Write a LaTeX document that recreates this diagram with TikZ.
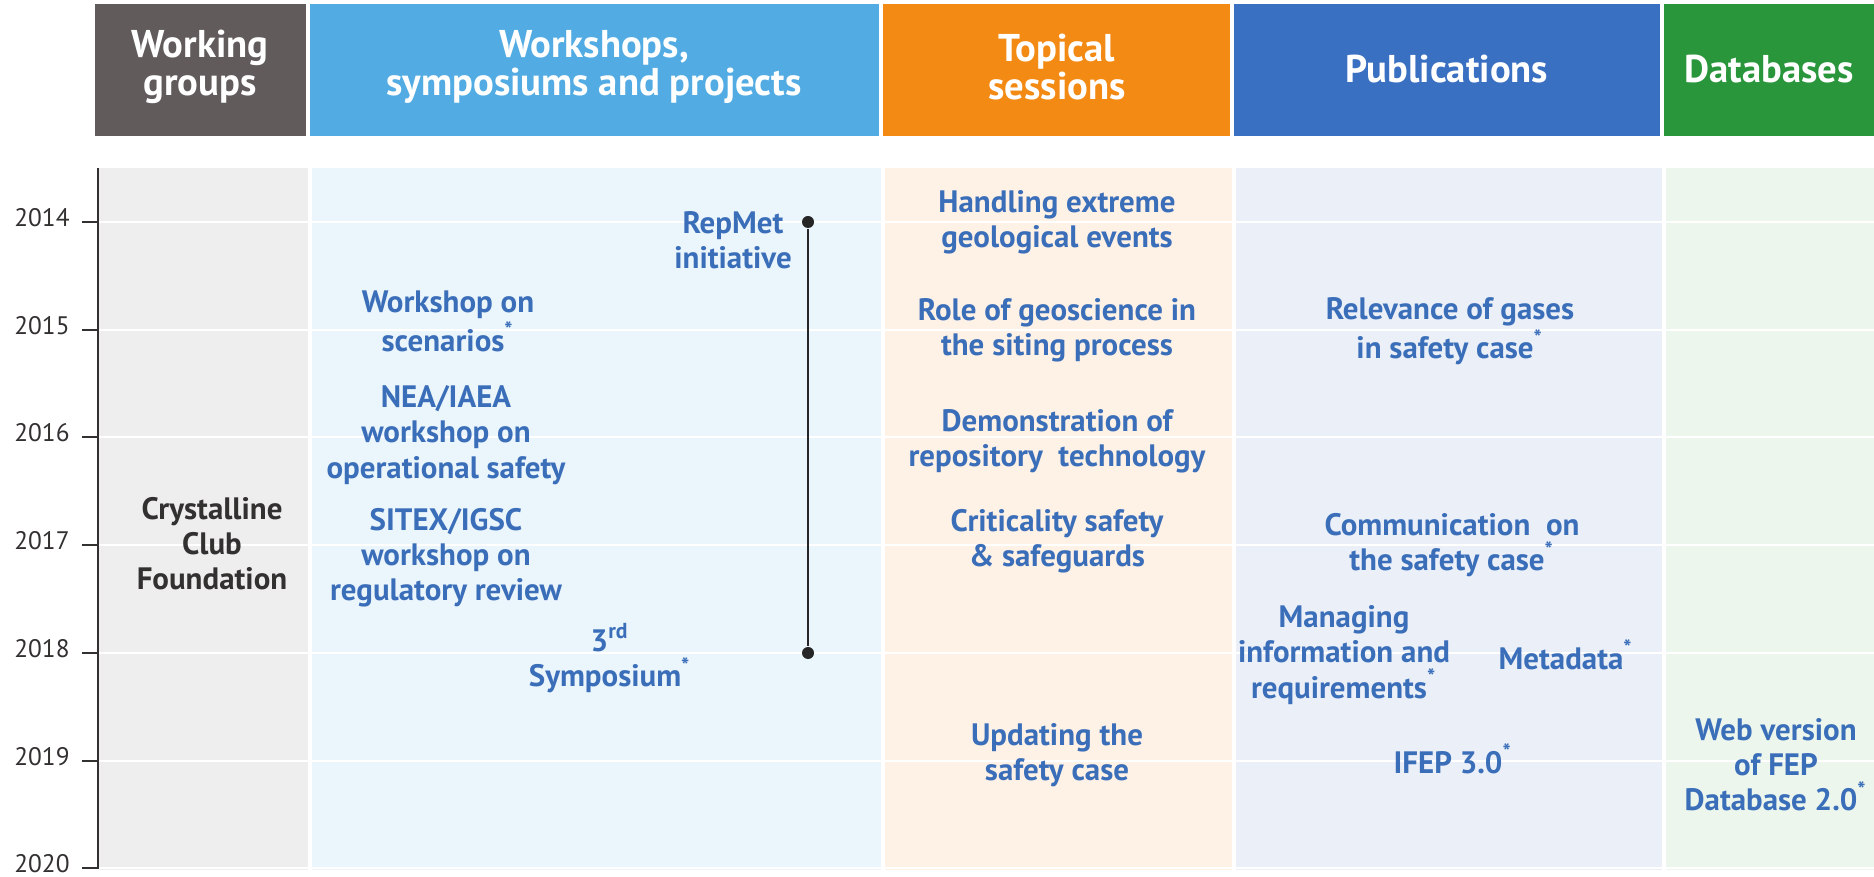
\documentclass[tikz,border=0pt]{standalone}
\usepackage{fontspec}
\setmainfont{PT Sans}
\usetikzlibrary{positioning}
\definecolor{hdgray}{RGB}{98,91,91}
\definecolor{hdsky}{RGB}{82,172,227}
\definecolor{hdorange}{RGB}{243,138,20}
\definecolor{hdblue}{RGB}{58,112,194}
\definecolor{hdgreen}{RGB}{42,150,60}
\definecolor{bggray}{RGB}{238,238,238}
\definecolor{bgsky}{RGB}{235,245,252}
\definecolor{bgorange}{RGB}{254,241,230}
\definecolor{bgblue}{RGB}{234,239,248}
\definecolor{bggreen}{RGB}{236,246,237}
\definecolor{txtblue}{RGB}{58,110,185}
\definecolor{txtgray}{RGB}{51,48,48}
\newcommand{\fnmark}{\textsuperscript{*}}
\begin{document}
\begin{tikzpicture}[x=0.01cm,y=-0.01cm,
  head/.style={text=white, font=\bfseries\fontsize{11}{10.8}\selectfont, align=center},
  item/.style={text=txtblue, font=\bfseries\fontsize{8.8}{10}\selectfont, align=center},
  year/.style={text=txtgray, font=\fontsize{7.2}{8}\selectfont, anchor=east},
  dot/.style={circle, fill=black!85, inner sep=0pt, minimum size=0.12cm}]
\useasboundingbox (0,0) rectangle (1874,877);
\fill[white] (0,0) rectangle (1874,877);
% header boxes
\fill[hdgray] (95,4) rectangle (306,136);
\fill[hdsky] (310,4) rectangle (879,136);
\fill[hdorange] (883,4) rectangle (1230,136);
\fill[hdblue] (1234,4) rectangle (1660,136);
\fill[hdgreen] (1664,4) rectangle (1874,136);
\node[head] (hwg) at (200,67) {Working\\groups};
\node[head] (hws) at (594,67) {Workshops,\\symposiums and projects};
\node[head] (hts) at (1057,67) {Topical\\sessions};
\node[head] (hpub) at (1447,69) {Publications};
\node[head] (hdb) at (1769,69) {Databases};
% body columns
\fill[bggray] (99,168) rectangle (308,870);
\fill[bgsky] (312,168) rectangle (881,870);
\fill[bgorange] (885,168) rectangle (1232,870);
\fill[bgblue] (1236,168) rectangle (1662,870);
\fill[bggreen] (1666,168) rectangle (1874,870);
% years
\draw[txtgray, line width=0.7pt] (98,168) -- (98,869);
\foreach \yr/\yy in {2014/222,2015/330,2016/437,2017/545,2018/653,2019/761,2020/868}{
  \draw[white, line width=0.5pt] (99,\yy) -- (1874,\yy);
  \draw[txtgray, line width=0.7pt] (82,\yy) -- (98,\yy);
  \node[year] (yr\yr) at (82,\yy-4) {\yr};
}
% working groups
\node[item, text=txtgray] (wg1) at (212,544) {Crystalline\\Club\\Foundation};
% workshops, symposiums and projects
\node[dot] (rm0) at (808,222) {};
\node[dot] (rm1) at (808,653) {};
\draw[black!85, line width=0.6pt] (rm0) -- (rm1);
\node[item] (ws0) at (733,240) {RepMet\\initiative};
\node[item] (ws1) at (448,321) {Workshop on\\scenarios\fnmark};
\node[item] (ws2) at (446,435) {NEA/IAEA\\workshop on\\operational safety};
\node[item] (ws3) at (446,558) {SITEX/IGSC\\workshop on\\regulatory review};
\node[item] (ws4) at (610,658) {3\textsuperscript{rd}\\Symposium\fnmark};
% topical sessions
\node[item] (ts1) at (1057,222) {Handling extreme\\geological events};
\node[item] (ts2) at (1057,330) {Role of geoscience in\\the siting process};
\node[item] (ts3) at (1057,441) {Demonstration of\\repository~ technology};
\node[item] (ts4) at (1057,541) {Criticality safety\\\& safeguards};
\node[item] (ts5) at (1057,755) {Updating the\\safety case};
% publications
\node[item] (pub1) at (1450,331) {Relevance of gases\\in safety case\fnmark};
\node[item] (pub2) at (1452,545) {Communication~ on\\the safety case\fnmark};
\node[item] (pub3) at (1344,655) {Managing\\information and\\requirements\fnmark};
\node[item] (pub4) at (1566,655) {Metadata\fnmark};
\node[item] (pub5) at (1453,759) {IFEP 3.0\fnmark};
% databases
\node[item] (db1) at (1776,765) {Web version\\of FEP\\Database 2.0\fnmark};
\end{tikzpicture}
\end{document}
